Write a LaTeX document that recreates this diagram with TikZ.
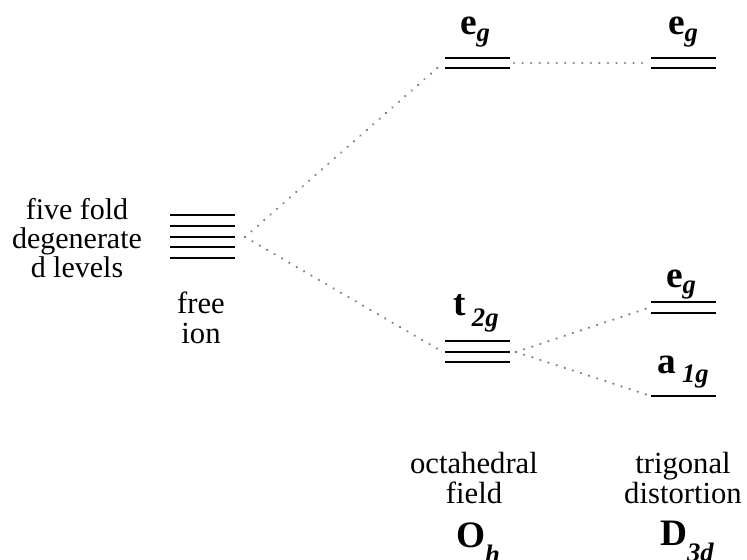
\documentclass[tikz,border=0pt]{standalone}
\usepackage{fontspec}
\setmainfont{Liberation Serif}
\tikzset{
  lvl/.style={line width=1.3pt},
  link/.style={black!50, line width=1.8pt, line cap=round, dash pattern=on 0.1pt off 6.3pt},
  txt/.style={font=\fontsize{23}{23}\selectfont, align=center, inner sep=0pt},
  sym/.style={font=\fontsize{28}{28}\selectfont\bfseries, inner sep=0pt, anchor=base},
}
\newcommand\lvlabel[3][-5pt]{#2\raisebox{#1}{\fontsize{20}{20}\selectfont\itshape #3}}
\begin{document}
\begin{tikzpicture}[x=0.75pt,y=-0.75pt]
\useasboundingbox (0,0) rectangle (747,560);
% energy levels
\foreach \y in {215,226,237,247,258} \draw[lvl] (170,\y) -- (235,\y);
\foreach \y in {58,68} {\draw[lvl] (445,\y) -- (510,\y); \draw[lvl] (651,\y) -- (716,\y);}
\foreach \y in {341,352,362} \draw[lvl] (445,\y) -- (510,\y);
\foreach \y in {302,313} \draw[lvl] (651,\y) -- (716,\y);
\draw[lvl] (651,396) -- (716,396);
% ends of the connectors
\coordinate (free) at (245,237);
\coordinate (egOin) at (443,63);
\coordinate (egOout) at (514,63);
\coordinate (egDup) at (649,63);
\coordinate (tin) at (443,352);
\coordinate (tout) at (516,352);
\coordinate (egDlow) at (648,308);
\coordinate (aD) at (648,395);
\draw[link] (free) -- (egOin);
\draw[link] (free) -- (tin);
\draw[link] (egOout) -- (egDup);
\draw[link] (tout) -- (egDlow);
\draw[link] (tout) -- (aD);
% labels
\node[sym] (egO) at (475,35) {\lvlabel{e}{g}};
\node[sym] (egU) at (683,35) {\lvlabel{e}{g}};
\node[sym] (t2g) at (476,315) {\lvlabel[-9pt]{t\,}{2g}};
\node[sym] (egL) at (681,287) {\lvlabel{e}{g}};
\node[sym] (a1g) at (683,373) {\lvlabel[-7pt]{a\,}{1g}};
\node[sym] (Oh) at (478,547) {\lvlabel[-12pt]{O}{h}};
\node[sym] (D3d) at (687,545) {\lvlabel[-12pt]{D}{3d}};
\node[txt, font=\fontsize{22.5}{21.75}\selectfont] (fivefold) at (77,238) {five fold\\degenerate\\d levels};
\node[txt] (freeion) at (201,318) {free\\ion};
\node[txt] (octa) at (474,478) {octahedral\\field};
\node[txt] (trig) at (683,478) {trigonal\\distortion};
\end{tikzpicture}
\end{document}
